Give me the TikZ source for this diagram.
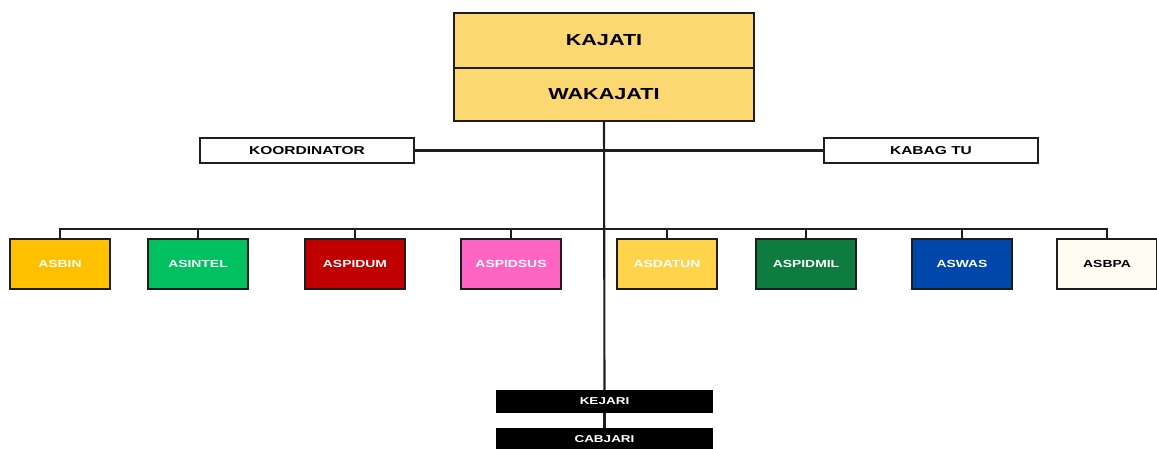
\documentclass[tikz,border=0pt]{standalone}
\usepackage{fontspec}
\setmainfont{Liberation Sans}[FakeStretch=1.35]
\usepackage{xcolor}
\usetikzlibrary{positioning,calc}

\definecolor{headyellow}{HTML}{FCD872}
\definecolor{asbincol}{HTML}{FFC000}
\definecolor{asintelcol}{HTML}{00C060}
\definecolor{aspidumcol}{HTML}{C00000}
\definecolor{aspidsuscol}{HTML}{FF66C4}
\definecolor{asdatuncol}{HTML}{FFD34A}
\definecolor{aspidmilcol}{HTML}{0E7C3E}
\definecolor{aswascol}{HTML}{0047AB}
\definecolor{asbpacol}{HTML}{FFFDF2}
\definecolor{edge}{HTML}{1E1E1E}

\begin{document}
\begin{tikzpicture}[x=1pt,y=-1pt,
    link/.style={draw=edge,line width=2.1pt},
    headbox/.style={draw=edge,line width=2.2pt,fill=headyellow,minimum width=300pt,inner sep=0pt,font=\bfseries\fontsize{16}{17}\selectfont},
    sidebox/.style={draw=edge,line width=2pt,fill=white,minimum width=214pt,minimum height=25pt,inner sep=0pt,font=\bfseries\fontsize{11.5}{12}\selectfont},
    asbox/.style={draw=edge,line width=2.2pt,minimum width=100pt,minimum height=50pt,inner sep=0pt,font=\bfseries\fontsize{10.3}{11}\selectfont},
    kejbox/.style={fill=black,text=white,minimum width=217pt,minimum height=23pt,inner sep=0pt,font=\bfseries\fontsize{10}{11}\selectfont}]
    \useasboundingbox (0,0) rectangle (1157,448);

    % pimpinan
    \node[headbox,minimum height=55pt] (kajati) at (604,40.5) {KAJATI};
    \node[headbox,minimum height=53pt] (wakajati) at (604,94.5) {WAKAJATI};

    % staf
    \node[sidebox] (koordinator) at (307,150.5) {KOORDINATOR};
    \node[sidebox] (kabagtu) at (931,150.5) {KABAG TU};

    % kejari / cabjari
    \node[kejbox] (kejari) at (604.5,401.5) {KEJARI};
    \node[kejbox] (cabjari) at (604.5,439.5) {CABJARI};

    % asisten
    \coordinate (bus) at (604,229);
    \foreach \name/\cx/\col/\tcol/\txt in {asbin/60/asbincol/white/ASBIN,
        asintel/198/asintelcol/white/ASINTEL, aspidum/355/aspidumcol/white/ASPIDUM,
        aspidsus/511/aspidsuscol/white/ASPIDSUS, asdatun/667/asdatuncol/white/ASDATUN,
        aspidmil/806/aspidmilcol/white/ASPIDMIL, aswas/962/aswascol/white/ASWAS,
        asbpa/1107/asbpacol/black/ASBPA}
        \node[asbox,fill=\col,text=\tcol] (\name) at (\cx,264) {\txt};

    % garis
    \draw[link] (koordinator.east) -- (kabagtu.west);
    \draw[link] (wakajati.south) -- (kejari.north);
    \draw[link] (kejari.south) -- (cabjari.north);
    \draw[link] (asbin.north) -- (asbin.north |- bus) -- (asbpa.north |- bus) -- (asbpa.north);
    \foreach \name in {asintel,aspidum,aspidsus,asdatun,aspidmil,aswas}
        \draw[link] (\name.north) -- (\name.north |- bus);
\end{tikzpicture}
\end{document}
